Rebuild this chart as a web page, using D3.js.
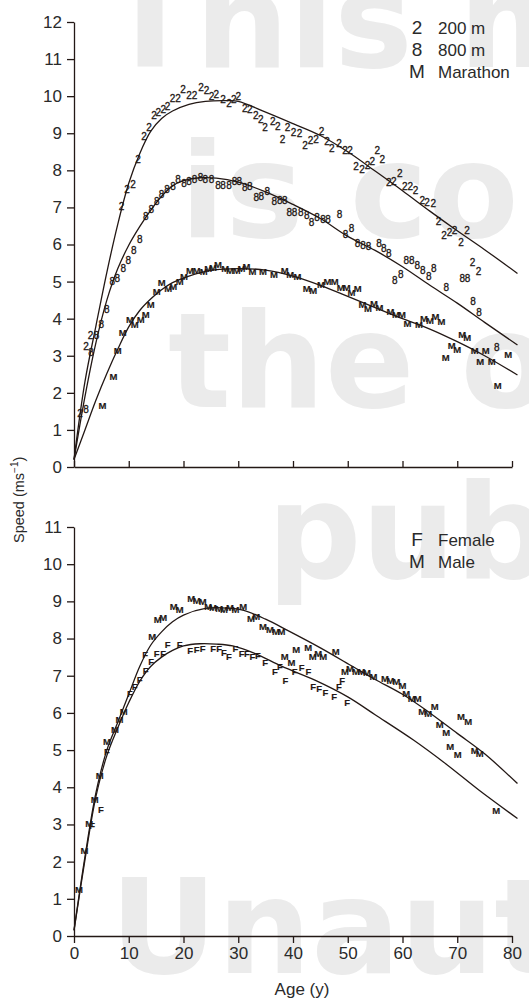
<!DOCTYPE html>
<html>
<head>
<meta charset="utf-8">
<script src="https://cdn.jsdelivr.net/npm/d3@7"></script>
<style>
  html, body { margin: 0; padding: 0; background: #fff; }
  svg { display: block; }
  text { font-family: "Liberation Sans", Arial, Helvetica, sans-serif; }
</style>
</head>
<body>
<div id="chart"></div>
<script>
// ---- data: [age (y), speed (m/s)] ----
const xTicks = [0, 10, 20, 30, 40, 50, 60, 70, 80];
const yTicksTop = [0, 1, 2, 3, 4, 5, 6, 7, 8, 9, 10, 11, 12];
const yTicksBottom = [0, 1, 2, 3, 4, 5, 6, 7, 8, 9, 10, 11];

const legendTop = [["2", "200 m"], ["8", "800 m"], ["M", "Marathon"]];
const legendBottom = [["F", "Female"], ["M", "Male"]];

const watermarkLines = ["This material", "is copyrighted", "the original", "publisher.", "Unauthorized"];

// fitted curves
const curve200 = [[0,0.2],[2,2.3],[4,3.8],[6,5.25],[8,6.55],[10,7.65],[12,8.45],[14,9.05],[16,9.4],[18,9.6],[21,9.78],[24,9.86],[28,9.88],[30,9.86],[35,9.57],[40,9.26],[45,8.94],[50,8.5],[55,7.98],[60,7.45],[65,6.9],[70,6.37],[75,5.86],[81,5.22]];
const curve800 = [[0,0.2],[2,1.9],[4,3.35],[6,4.5],[8,5.35],[10,5.98],[12,6.48],[14,6.92],[16,7.3],[18,7.58],[20,7.72],[23,7.8],[26,7.79],[30,7.68],[35,7.42],[40,7.08],[45,6.7],[50,6.22],[55,5.84],[60,5.4],[65,4.9],[70,4.42],[75,3.9],[81,3.29]];
const curveMarathon = [[0,0.2],[2,1.0],[4,1.8],[6,2.52],[8,3.18],[10,3.78],[12,4.22],[14,4.53],[16,4.78],[18,4.97],[21,5.15],[25,5.3],[30,5.35],[35,5.31],[40,5.15],[45,4.9],[50,4.6],[55,4.3],[60,4.0],[65,3.72],[70,3.38],[75,3.0],[81,2.48]];
const curveMale = [[0,0.15],[2,2.13],[4,3.85],[6,5.0],[8,5.75],[10,6.5],[12,7.25],[14,7.82],[16,8.18],[18,8.45],[20,8.63],[24,8.81],[28,8.82],[31,8.76],[35,8.52],[39,8.22],[45,7.75],[51,7.24],[55,6.9],[60,6.5],[65,6.0],[70,5.45],[75,4.9],[81,4.1]];
const curveFemale = [[0,0.15],[2,2.05],[4,3.75],[6,4.85],[8,5.6],[10,6.28],[12,6.85],[14,7.25],[16,7.5],[18,7.68],[20,7.8],[23,7.86],[26,7.85],[29,7.8],[33,7.6],[38,7.25],[44,6.88],[50,6.43],[55,5.95],[62,5.27],[68,4.62],[74,3.92],[81,3.16]];

// record points
const pts200 = [[1.1,1.45],[2.2,3.24],[3.0,3.54],[8.7,7.03],[9.7,7.47],[10.8,7.63],[11.7,8.3],[12.8,8.9],[13.7,9.16],[14.6,9.47],[15.4,9.56],[16.3,9.64],[17.1,9.73],[18,9.93],[19,9.93],[19.9,10.18],[21,10.03],[22,10.03],[23.2,10.23],[24.2,10.16],[25.1,10.0],[26,10.05],[27.2,9.91],[28.3,9.8],[29.2,9.91],[30,9.98],[31.2,9.67],[32.1,9.64],[33.2,9.49],[34.1,9.37],[34.9,9.15],[36.3,9.33],[37.2,9.19],[38.1,8.83],[39,9.15],[40.1,9.01],[41.2,8.98],[42.2,8.66],[43.2,8.81],[44.2,8.83],[45.2,9.04],[46.2,8.77],[47.1,8.59],[48.4,8.73],[49.5,8.54],[50.4,8.53],[51.5,8.09],[52.6,8.02],[53.6,8.14],[54.5,8.23],[55.4,8.53],[56.3,8.29],[57.5,7.66],[58.4,7.69],[59.5,7.92],[60.4,7.56],[61.4,7.56],[62.4,7.45],[63.6,7.2],[64.5,7.12],[65.6,7.11],[66.6,6.61],[67.6,6.25],[68.6,6.32],[69.5,6.37],[70.7,6.05],[71.8,6.37],[72.8,5.51],[73.9,5.26]];
const pts800 = [[2.2,1.56],[3.1,3.09],[4.1,3.54],[5,3.85],[6,4.25],[7,4.99],[7.9,5.09],[9,5.34],[9.9,5.56],[10.9,5.83],[12,6.14],[13.1,6.75],[14.1,6.95],[15.1,7.15],[16,7.36],[17,7.49],[18.1,7.56],[19,7.74],[20.1,7.65],[21,7.71],[22,7.74],[23.1,7.8],[24,7.75],[25.1,7.75],[26.3,7.6],[27.2,7.6],[28.3,7.6],[29.3,7.71],[30.2,7.71],[31.2,7.53],[32.1,7.57],[33.3,7.28],[34.2,7.3],[35.3,7.44],[36.6,7.15],[37.6,7.18],[38.5,7.2],[39.3,6.85],[40.3,6.85],[41.4,6.85],[42.5,6.77],[43.4,6.58],[44.4,6.73],[45.5,6.68],[46.4,6.68],[48.5,6.81],[49.6,6.28],[50.7,6.43],[51.8,6.03],[52.8,5.98],[53.8,5.94],[55.7,6.03],[56.6,5.89],[57.5,5.76],[58.6,5.04],[59.7,5.18],[60.7,5.56],[61.7,5.56],[62.7,5.44],[63.7,5.29],[64.8,5.13],[65.7,5.36],[68,4.83],[70.9,5.09],[71.9,5.09],[72.9,4.46],[74,4.16],[77.2,3.23]];
const ptsMarathon = [[5.2,1.67],[7.2,2.43],[8,3.13],[8.9,3.62],[10.2,3.98],[11.1,3.83],[12.2,3.98],[13.1,4.12],[14,4.39],[15.1,4.74],[16,4.97],[17.2,4.82],[18.1,4.86],[19.3,4.99],[20.1,5.15],[21.2,5.31],[22.4,5.31],[23.7,5.26],[24.5,5.36],[25.4,5.38],[26.3,5.47],[27.6,5.34],[28.5,5.29],[29.7,5.29],[30.6,5.34],[31.5,5.42],[32.6,5.28],[34.5,5.28],[36.5,5.18],[38.5,5.31],[39.5,5.2],[40.8,5.15],[42.5,4.81],[43.7,4.77],[45.1,4.91],[46.3,4.99],[47.6,4.99],[48.7,4.83],[49.8,4.83],[50.7,4.7],[51.8,4.81],[52.7,4.39],[53.7,4.28],[54.8,4.41],[55.8,4.29],[57.8,4.19],[58.8,4.1],[59.9,4.1],[60.9,3.87],[63,3.85],[63.9,4.01],[65,3.94],[66,4.07],[67.1,3.92],[67.9,2.96],[69,3.27],[70,3.17],[70.9,3.58],[71.8,3.5],[73.2,3.13],[74.2,2.84],[75.2,3.13],[76.3,2.84],[77.4,2.19],[79.3,3.04]];
const ptsFemale = [[3.3,2.98],[4.9,3.39],[6,4.95],[10.2,6.52],[11.1,6.7],[12,6.9],[13.1,7.15],[14.1,7.37],[13,7.57],[15.1,7.6],[16.3,7.6],[17.1,7.85],[19.3,7.85],[21.2,7.69],[22.4,7.71],[23.5,7.74],[25.4,7.74],[26.5,7.72],[27.4,7.62],[28.3,7.51],[29.5,7.74],[30.6,7.6],[31.6,7.6],[32.6,7.51],[33.6,7.55],[34.9,7.36],[36.7,7.11],[37.6,7.25],[38.6,6.88],[40.3,7.12],[41.6,7.21],[42.8,7.12],[43.7,6.72],[44.8,6.65],[45.9,6.56],[47.5,6.45],[48.4,6.72],[49,6.88],[49.9,6.27]];
const ptsMale = [[0.9,1.26],[1.9,2.31],[2.8,3.03],[3.8,3.66],[4.7,4.33],[6,5.22],[7.5,5.56],[8.3,5.81],[9.1,6.05],[14.3,8.05],[15.3,8.5],[16.3,8.57],[18.2,8.87],[19.3,8.78],[21.4,9.08],[22.4,9.03],[23.5,8.99],[24.5,8.86],[25.4,8.84],[26.5,8.82],[27.4,8.79],[28.5,8.84],[29.5,8.79],[30.9,8.86],[32.3,8.55],[33.3,8.6],[34.5,8.33],[35.8,8.23],[36.9,8.19],[37.9,8.19],[38.5,7.53],[39.7,7.35],[40.6,7.71],[42.8,7.77],[43.6,7.53],[44.6,7.59],[45.5,7.53],[47.8,7.66],[49.5,7.11],[50.4,7.2],[51.5,7.11],[52.5,7.11],[53.5,7.08],[54.7,6.99],[56.8,6.93],[57.8,6.88],[58.9,6.84],[60,6.75],[60.7,6.51],[61.7,6.4],[62.8,6.4],[63.6,6.05],[64.7,5.99],[65.9,6.18],[66.8,5.69],[68,5.48],[68.7,5.09],[70.1,4.88],[70.7,5.91],[72,5.76],[73.2,5.0],[74.1,4.91],[77.1,3.38]];

// ---- drawing ----
const width = 529, height = 999;
const ink = "#231815";

const svg = d3.select("#chart").append("svg")
  .attr("width", width)
  .attr("height", height);

// faint publisher watermark behind everything
const wmPos = [[105, 67], [180, 237], [168, 407], [267, 578], [110, 973]];
svg.append("g")
  .selectAll("text")
  .data(watermarkLines)
  .join("text")
  .attr("x", (d, i) => wmPos[i][0])
  .attr("y", (d, i) => wmPos[i][1])
  .style("font-family", "'DejaVu Sans', sans-serif")
  .style("font-size", "132px")
  .style("font-weight", "bold")
  .style("fill", "#ebebeb")
  .text(d => d);

const x = d3.scaleLinear().domain([0, 80]).range([74, 512]);
const yTop = d3.scaleLinear().domain([0, 12]).range([467, 22]);
const yBot = d3.scaleLinear().domain([0, 11]).range([936, 527]);

function styleAxis(g) {
  g.select(".domain").attr("stroke", ink).attr("stroke-width", 1.3);
  g.selectAll(".tick line").attr("stroke", ink).attr("stroke-width", 1.3);
  g.selectAll(".tick text").style("font-size", "17px").attr("fill", "#2a2a2a");
}

// top panel axes
svg.append("g")
  .attr("transform", "translate(74,0)")
  .call(d3.axisLeft(yTop).tickValues(yTicksTop).tickSize(7).tickSizeOuter(0).tickPadding(5))
  .call(styleAxis);

svg.append("g")
  .attr("transform", "translate(0,467)")
  .call(d3.axisBottom(x).tickValues(xTicks).tickSize(-6).tickSizeOuter(0).tickFormat(""))
  .call(styleAxis);

// bottom panel axes
svg.append("g")
  .attr("transform", "translate(74,0)")
  .call(d3.axisLeft(yBot).tickValues(yTicksBottom).tickSize(7).tickSizeOuter(0).tickPadding(5))
  .call(styleAxis);

svg.append("g")
  .attr("transform", "translate(0,936)")
  .call(d3.axisBottom(x).tickValues(xTicks).tickSize(7).tickSizeOuter(0).tickPadding(4))
  .call(styleAxis);

svg.append("text")
  .attr("x", 302)
  .attr("y", 995)
  .attr("text-anchor", "middle")
  .style("font-size", "17px")
  .attr("fill", "#2a2a2a")
  .text("Age (y)");

const yTitle = svg.append("text")
  .attr("transform", "translate(24,543) rotate(-90)")
  .attr("text-anchor", "start")
  .style("font-size", "14.5px")
  .attr("fill", "#2a2a2a");
yTitle.append("tspan").text("Speed (ms");
yTitle.append("tspan").attr("dy", -6).style("font-size", "10px").text("\u22121");
yTitle.append("tspan").attr("dy", 6).text(")");

// curves
function drawCurve(data, yScale) {
  svg.append("path")
    .datum(data)
    .attr("fill", "none")
    .attr("stroke", ink)
    .attr("stroke-width", 1.3)
    .attr("d", d3.line()
      .x(d => x(d[0]))
      .y(d => yScale(d[1]))
      .curve(d3.curveCatmullRom.alpha(0.5)));
}

drawCurve(curve200, yTop);
drawCurve(curve800, yTop);
drawCurve(curveMarathon, yTop);
drawCurve(curveMale, yBot);
drawCurve(curveFemale, yBot);

// record symbols drawn as characters
function drawSymbols(data, yScale, symbol, bold) {
  svg.append("g")
    .selectAll("text")
    .data(data)
    .join("text")
    .attr("x", d => x(d[0]))
    .attr("y", d => yScale(d[1]))
    .attr("text-anchor", "middle")
    .attr("dominant-baseline", "central")
    .style("font-size", bold ? "9.5px" : "10px")
    .style("font-weight", bold ? "bold" : "normal")
    .attr("fill", ink)
    .attr("stroke", ink)
    .attr("stroke-width", bold ? 0.15 : 0.3)
    .text(symbol);
}

drawSymbols(pts200, yTop, "2", false);
drawSymbols(pts800, yTop, "8", false);
drawSymbols(ptsMarathon, yTop, "M", true);
drawSymbols(ptsFemale, yBot, "F", true);
drawSymbols(ptsMale, yBot, "M", true);

// legends
function drawLegend(items, top) {
  const g = svg.append("g");
  g.selectAll("text.sym")
    .data(items)
    .join("text")
    .attr("class", "sym")
    .attr("x", 417)
    .attr("y", (d, i) => top + i * 22.3)
    .attr("text-anchor", "middle")
    .style("font-size", "19px")
    .attr("fill", "#2a2a2a")
    .text(d => d[0]);
  g.selectAll("text.lab")
    .data(items)
    .join("text")
    .attr("class", "lab")
    .attr("x", 438)
    .attr("y", (d, i) => top + i * 22.3)
    .style("font-size", "17px")
    .attr("fill", "#2a2a2a")
    .text(d => d[1]);
}

drawLegend(legendTop, 33.5);
drawLegend(legendBottom, 545.5);
</script>
</body>
</html>
